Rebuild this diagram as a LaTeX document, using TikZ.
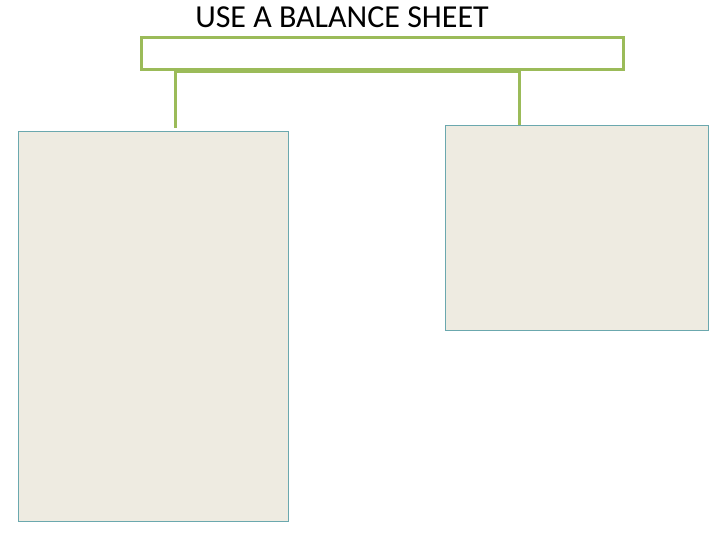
\documentclass[tikz,border=0pt]{standalone}
\usepackage{fontspec}
\setmainfont{Carlito}
\definecolor{barGreen}{HTML}{9BBB59}
\definecolor{boxFill}{HTML}{EEEBE1}
\definecolor{boxLine}{HTML}{6BA8AE}
\tikzset{
  sheetbox/.style={draw=boxLine, fill=boxFill, line width=0.8pt, inner sep=0pt, anchor=north west},
  link/.style={draw=barGreen, line width=3pt}
}
\begin{document}
\begin{tikzpicture}[x=1pt,y=-1pt]
\useasboundingbox (0,0) rectangle (720,540);
\node (title) at (342,17) {\fontsize{32}{38}\selectfont USE A BALANCE SHEET};
\node[draw=barGreen, line width=3pt, inner sep=0pt, anchor=north west,
      minimum width=482pt, minimum height=32pt] (bar) at (140,36) {};
\node[sheetbox, minimum width=270pt, minimum height=390pt] (assets) at (18,131) {};
\node[sheetbox, minimum width=263pt, minimum height=205pt] (claims) at (445,125) {};
\coordinate (ltop) at (175,128);
\coordinate (rtop) at (519,125);
\draw[link] (ltop) -- ([yshift=-1pt]ltop |- bar.south) -- ([yshift=-1pt]rtop |- bar.south) -- (rtop);
\end{tikzpicture}
\end{document}
